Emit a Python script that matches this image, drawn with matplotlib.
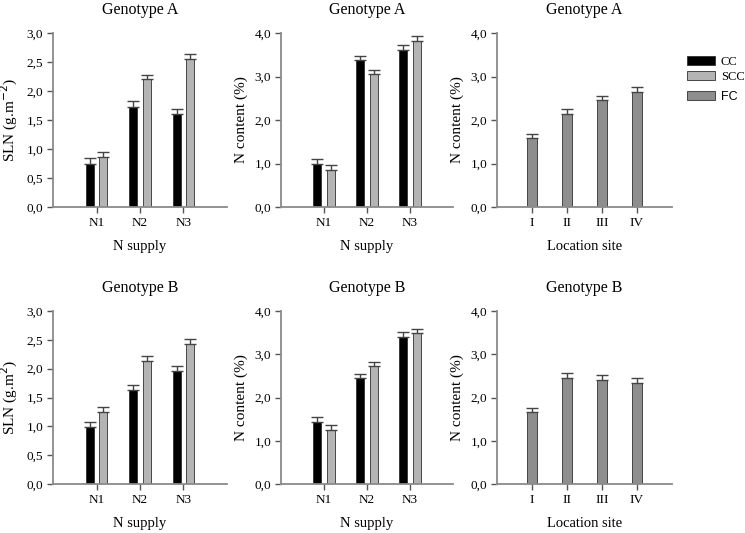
import matplotlib
matplotlib.use("Agg")
import matplotlib.pyplot as plt
import matplotlib.patches as mpatches
import numpy as np

plt.rcParams["font.family"] = ["Liberation Serif", "DejaVu Serif"]

# ---- data -------------------------------------------------------------
supply_labels = ["N1", "N2", "N3"]
site_labels = ["I", "II", "III", "IV"]

sln_a_cc = [0.75, 1.73, 1.60]
sln_a_scc = [0.86, 2.20, 2.56]
sln_a_cc_err = [0.09, 0.09, 0.09]
sln_a_scc_err = [0.09, 0.08, 0.08]

nc_a_cc = [1.00, 3.38, 3.61]
nc_a_scc = [0.86, 3.05, 3.82]
nc_a_cc_err = [0.11, 0.10, 0.11]
nc_a_scc_err = [0.10, 0.10, 0.10]

fc_a = [1.58, 2.14, 2.46, 2.64]
fc_a_err = [0.10, 0.11, 0.09, 0.11]

sln_b_cc = [0.99, 1.63, 1.96]
sln_b_scc = [1.25, 2.13, 2.43]
sln_b_cc_err = [0.09, 0.09, 0.09]
sln_b_scc_err = [0.09, 0.09, 0.08]

nc_b_cc = [1.43, 2.44, 3.41]
nc_b_scc = [1.25, 2.73, 3.49]
nc_b_cc_err = [0.11, 0.10, 0.10]
nc_b_scc_err = [0.11, 0.10, 0.10]

fc_b = [1.66, 2.46, 2.40, 2.34]
fc_b_err = [0.10, 0.10, 0.11, 0.10]

COL = {"cc": "#000000", "scc": "#b4b4b4", "fc": "#8e8e8e",
       "edge": "#303030", "spine": "#8a8a8a"}

W, H = 745, 533


def px_axes(fig, left, right, top, bottom):
    return fig.add_axes([left / W, 1 - bottom / H, (right - left) / W, (bottom - top) / H])


def style(ax, ymax, ystep, title, xlabel, ylabel):
    for s in ["top", "right"]:
        ax.spines[s].set_visible(False)
    for s in ["left", "bottom"]:
        ax.spines[s].set_color(COL["spine"])
        ax.spines[s].set_linewidth(1.3)
    ax.set_ylim(0, ymax)
    yt = np.arange(0, ymax + 1e-9, ystep)
    ax.set_yticks(yt)
    ax.set_yticklabels([f"{v:.1f}".replace(".", ",") for v in yt])
    ax.tick_params(axis="both", direction="out", length=4, width=1,
                   color="#555555", labelsize=9.5, pad=3)
    ax.tick_params(axis="x", pad=3)
    ax.set_title(title, fontsize=11.5, pad=14)
    ax.set_xlabel(xlabel, fontsize=10.5, labelpad=8)
    ax.set_ylabel(ylabel, fontsize=11, labelpad=5)


def pair_panel(ax, cc, scc, cc_err, scc_err):
    x = np.arange(1, len(supply_labels) + 1)
    w, off = 0.19, 0.155
    kw = dict(edgecolor=COL["edge"], linewidth=0.6,
              error_kw=dict(ecolor="#444444", elinewidth=1, capsize=4, capthick=1))
    ax.bar(x - off, cc, w, color=COL["cc"], yerr=[[0] * len(cc), cc_err], **kw)
    ax.bar(x + off, scc, w, color=COL["scc"], yerr=[[0] * len(scc), scc_err], **kw)
    ax.set_xlim(0, 4)
    ax.set_xticks(x)
    ax.set_xticklabels(supply_labels)


def site_panel(ax, vals, err):
    x = np.arange(1, len(site_labels) + 1)
    ax.bar(x, vals, 0.31, color=COL["fc"], edgecolor=COL["edge"], linewidth=0.6,
           yerr=[[0] * len(vals), err],
           error_kw=dict(ecolor="#444444", elinewidth=1, capsize=4, capthick=1))
    ax.set_xlim(0, 5)
    ax.set_xticks(x)
    ax.set_xticklabels(site_labels)


fig = plt.figure(figsize=(W / 100, H / 100), dpi=100)

rows = [(33, 207, "Genotype A", sln_a_cc, sln_a_scc, sln_a_cc_err, sln_a_scc_err,
         nc_a_cc, nc_a_scc, nc_a_cc_err, nc_a_scc_err, fc_a, fc_a_err, "SLN (g.m$^{-2}$)"),
        (311, 484, "Genotype B", sln_b_cc, sln_b_scc, sln_b_cc_err, sln_b_scc_err,
         nc_b_cc, nc_b_scc, nc_b_cc_err, nc_b_scc_err, fc_b, fc_b_err, "SLN (g.m$^{2}$)")]

for (top, bot, title, s_cc, s_scc, s_cce, s_scce,
     n_cc, n_scc, n_cce, n_scce, fc, fce, sln_lab) in rows:
    ax1 = px_axes(fig, 53, 227, top, bot)
    pair_panel(ax1, s_cc, s_scc, s_cce, s_scce)
    style(ax1, 3.0, 0.5, title, "N supply", sln_lab)

    ax2 = px_axes(fig, 281, 453, top, bot)
    pair_panel(ax2, n_cc, n_scc, n_cce, n_scce)
    style(ax2, 4.0, 1.0, title, "N supply", "N content (%)")

    ax3 = px_axes(fig, 497, 672, top, bot)
    site_panel(ax3, fc, fce)
    style(ax3, 4.0, 1.0, title, "Location site", "N content (%)")

# legend: CC / SCC in serif, FC in sans (as in the original)
h_cc = mpatches.Patch(facecolor=COL["cc"], edgecolor=COL["edge"], linewidth=0.6, label="CC")
h_scc = mpatches.Patch(facecolor=COL["scc"], edgecolor=COL["edge"], linewidth=0.6, label="SCC")
h_fc = mpatches.Patch(facecolor=COL["fc"], edgecolor=COL["edge"], linewidth=0.6, label="FC")
leg1 = fig.legend(handles=[h_cc, h_scc], loc="upper left",
                  bbox_to_anchor=(687 / W, 1 - 56 / H), frameon=False,
                  fontsize=9, handlelength=2.2, handleheight=0.7,
                  handletextpad=0.5, labelspacing=0.2, borderaxespad=0,
                  borderpad=0)
leg2 = fig.legend(handles=[h_fc], loc="upper left",
                  bbox_to_anchor=(687 / W, 1 - 91 / H), frameon=False,
                  prop={"family": "Liberation Sans", "size": 9},
                  handlelength=2.2, handleheight=0.7, handletextpad=0.5,
                  borderaxespad=0, borderpad=0)

fig.savefig("out.png", dpi=100)
